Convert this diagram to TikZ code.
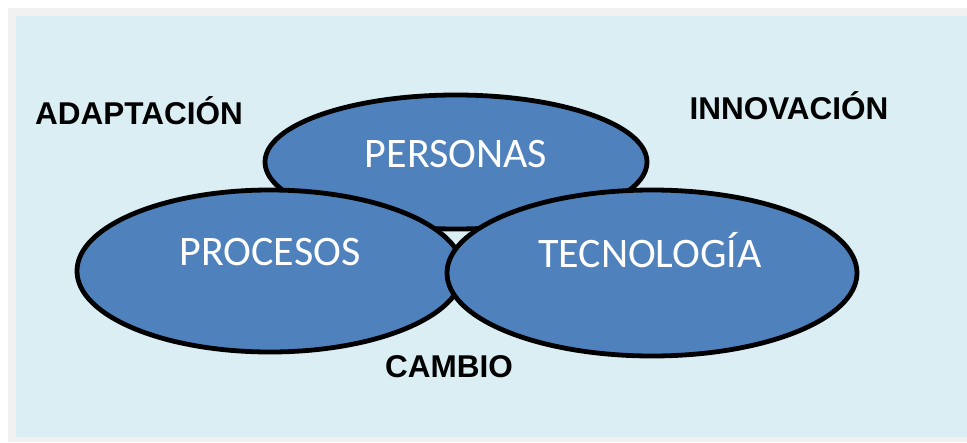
\documentclass[tikz,border=0pt]{standalone}
\usepackage{fontspec}
\setmainfont{Carlito}
\newfontfamily\headfont{Liberation Sans}
\usepackage{tikz}
\usetikzlibrary{shapes.geometric, positioning, calc}
\usetikzlibrary{backgrounds}
\definecolor{frameGray}{HTML}{F0F0F0}
\definecolor{paleBlue}{HTML}{DAEEF3}
\definecolor{blobBlue}{HTML}{4F81BD}
\tikzstyle{blob} = [ellipse, draw=black, line width=4.8pt, fill=blobBlue, inner sep=0pt]
\tikzstyle{inner} = [anchor=base, text=white, font=\fontsize{42}{42}\selectfont]
\tikzstyle{outer} = [anchor=base, text=black, font=\headfont\bfseries\fontsize{31.5}{31.5}\selectfont]

\begin{document}
\begin{tikzpicture}[x=1pt, y=-1pt]
            \useasboundingbox (0,0) rectangle (967,442);
            \fill[frameGray] (8,8) rectangle (967,442);
            \fill[paleBlue] (16,16) rectangle (967,437);

            \node (personas) [blob, minimum width=382pt, minimum height=134pt] at (456,162) {};
            \node (procesos) [blob, minimum width=386pt, minimum height=162pt] at (270,271) {};
            \node (tecnologia) [blob, minimum width=410pt, minimum height=166pt] at (652,273) {};

            \node (personasTxt) [inner] at (456,167) {PERSONAS};
            \node (procesosTxt) [inner] at (270,265) {PROCESOS};
            \node (tecnologiaTxt) [inner] at (650,267) {TECNOLOGÍA};

            \node (adaptacion) [outer] at (139,124) {ADAPTACIÓN};
            \node (innovacion) [outer] at (789,119) {INNOVACIÓN};
            \node (cambio) [outer] at (449,377) {CAMBIO};
        \end{tikzpicture}
\end{document}
